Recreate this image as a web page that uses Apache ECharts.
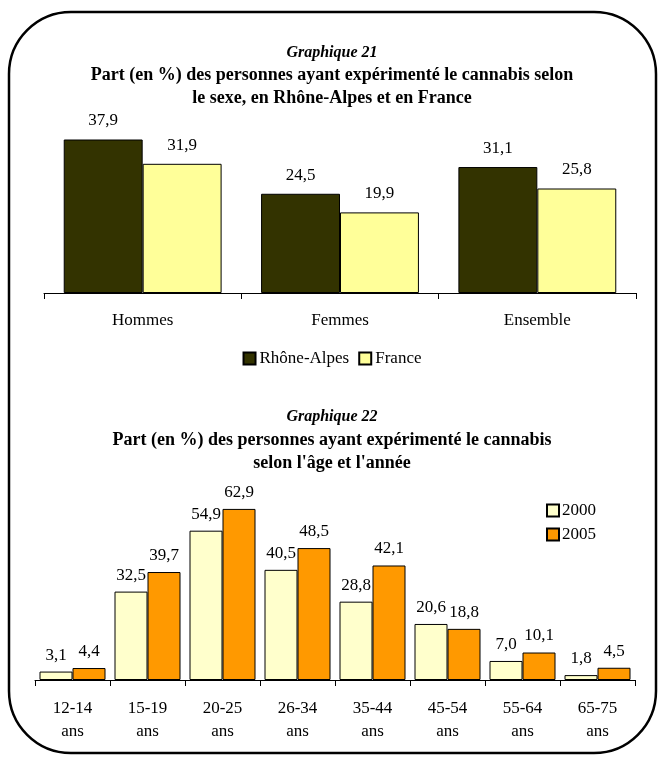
<!DOCTYPE html>
<html>
<head>
<meta charset="utf-8">
<script src="https://cdn.jsdelivr.net/npm/echarts@6/dist/echarts.min.js"></script>
<style>
  html, body { margin: 0; padding: 0; background: #fff; }
  #chart { width: 664px; height: 760px; }
</style>
</head>
<body>
<div id="chart"></div>
<script>
// Graphique 21 : expérimentation du cannabis selon le sexe
const sexCategories = ['Hommes', 'Femmes', 'Ensemble'];
const rhoneAlpes = [37.9, 24.5, 31.1];
const france = [31.9, 19.9, 25.8];

// Graphique 22 : expérimentation du cannabis selon l'âge et l'année
const ageCategories = ['12-14\nans', '15-19\nans', '20-25\nans', '26-34\nans', '35-44\nans', '45-54\nans', '55-64\nans', '65-75\nans'];
const year2000 = [3.1, 32.5, 54.9, 40.5, 28.8, 20.6, 7.0, 1.8];
const year2005 = [4.4, 39.7, 62.9, 48.5, 42.1, 18.8, 10.1, 4.5];

const FONT = 'Liberation Serif';
const LABEL_SIZE = 17;
const fmt = p => p.value.toFixed(1).replace('.', ',');

const titleRich = {
  g: { fontFamily: FONT, fontSize: 16, fontStyle: 'italic', fontWeight: 'bold', fill: '#000', lineHeight: 23 },
  t: { fontFamily: FONT, fontSize: 18, fontWeight: 'bold', fill: '#000', lineHeight: 23 }
};

function titleBlock(top, lines) {
  return {
    type: 'text', silent: true, x: 332, y: top,
    style: {
      text: lines.map((l, i) => (i === 0 ? '{g|' : '{t|') + l + '}').join('\n'),
      rich: titleRich, align: 'center', verticalAlign: 'top'
    }
  };
}

const chart = echarts.init(document.getElementById('chart'), null, { renderer: 'canvas' });

const barLabel = (dist) => ({
  show: true, position: 'top', distance: dist, formatter: fmt,
  fontFamily: FONT, fontSize: LABEL_SIZE, color: '#000'
});

chart.setOption({
  animation: false,
  backgroundColor: '#fff',
  textStyle: { fontFamily: FONT },
  graphic: [
    {
      type: 'rect', silent: true,
      shape: { x: 9, y: 12, width: 647, height: 741, r: 62 },
      style: { fill: 'none', stroke: '#000', lineWidth: 2.5 }
    },
    titleBlock(41, [
      'Graphique 21',
      'Part (en %) des personnes ayant expérimenté le cannabis selon',
      'le sexe, en Rhône-Alpes et en France'
    ]),
    titleBlock(405.5, [
      'Graphique 22',
      'Part (en %) des personnes ayant expérimenté le cannabis',
      'selon l\'âge et l\'année'
    ])
  ],
  legend: [{
    left: 'center', top: 345,
    data: ['Rhône-Alpes', 'France'],
    itemWidth: 12, itemHeight: 12, itemGap: 9,
    icon: 'rect',
    textStyle: { fontFamily: FONT, fontSize: LABEL_SIZE, color: '#000', padding: [0, 0, 0, -1] }
  }, {
    left: 541, top: 497, orient: 'vertical',
    data: ['2000', '2005'],
    itemWidth: 12, itemHeight: 12, itemGap: 7,
    icon: 'rect',
    textStyle: { fontFamily: FONT, fontSize: LABEL_SIZE, color: '#000', padding: [0, 0, 0, -2] }
  }],
  grid: [
    { left: 44, right: 28, top: 131, height: 162 },
    { left: 35, right: 29, top: 489.6, height: 190.4 }
  ],
  xAxis: [{
    type: 'category', gridIndex: 0, data: sexCategories,
    axisLine: { lineStyle: { color: '#000', width: 1 } },
    axisTick: { show: true, length: 6, lineStyle: { color: '#000' } },
    axisLabel: { margin: 19, fontFamily: FONT, fontSize: LABEL_SIZE, color: '#000' }
  }, {
    type: 'category', gridIndex: 1, data: ageCategories,
    axisLine: { lineStyle: { color: '#000', width: 1 } },
    axisTick: { show: true, length: 6, lineStyle: { color: '#000' } },
    axisLabel: { margin: 17, fontFamily: FONT, fontSize: LABEL_SIZE, color: '#000', lineHeight: 23 }
  }],
  yAxis: [{
    type: 'value', gridIndex: 0, min: 0, max: 40,
    axisLine: { show: false }, axisTick: { show: false },
    axisLabel: { show: false }, splitLine: { show: false }
  }, {
    type: 'value', gridIndex: 1, min: 0, max: 70,
    axisLine: { show: false }, axisTick: { show: false },
    axisLabel: { show: false }, splitLine: { show: false }
  }],
  series: [{
    name: 'Rhône-Alpes', type: 'bar', xAxisIndex: 0, yAxisIndex: 0,
    data: rhoneAlpes, barGap: '0%', barCategoryGap: '20%',
    itemStyle: { color: '#333300', borderColor: '#000', borderWidth: 1 },
    label: barLabel(10)
  }, {
    name: 'France', type: 'bar', xAxisIndex: 0, yAxisIndex: 0,
    data: france, barGap: '0%', barCategoryGap: '20%',
    itemStyle: { color: '#FFFF99', borderColor: '#000', borderWidth: 1 },
    label: barLabel(10)
  }, {
    name: '2000', type: 'bar', xAxisIndex: 1, yAxisIndex: 1,
    data: year2000, barGap: '0%', barCategoryGap: '12%',
    itemStyle: { color: '#FFFFCC', borderColor: '#000', borderWidth: 1 },
    label: barLabel(8)
  }, {
    name: '2005', type: 'bar', xAxisIndex: 1, yAxisIndex: 1,
    data: year2005, barGap: '0%', barCategoryGap: '12%',
    itemStyle: { color: '#FF9900', borderColor: '#000', borderWidth: 1 },
    label: barLabel(8)
  }]
});
</script>
</body>
</html>
